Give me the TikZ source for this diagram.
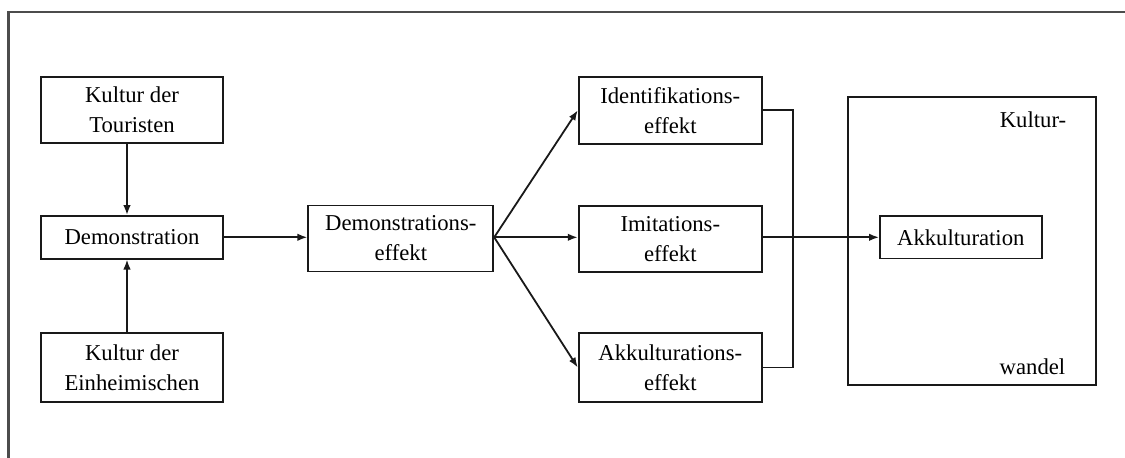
\documentclass[tikz,border=0pt]{standalone}
\usepackage{fontspec}
\setmainfont{Liberation Serif}
\usetikzlibrary{arrows.meta}
\begin{document}
\begin{tikzpicture}[x=1pt,y=-1pt,
  box/.style={draw=black!90, line width=1.8pt, inner sep=0pt, align=center,
    font=\fontsize{22.7}{30}\selectfont},
  lbl/.style={inner sep=0pt, font=\fontsize{22.7}{30}\selectfont},
  conn/.style={draw=black!90, line width=1.8pt},
  arr/.style={conn, -{Latex[length=10pt,width=7.5pt]}},
  frame/.style={draw=black!70, line width=2.2pt}]
\useasboundingbox (0,0) rectangle (1125,458);
\draw[frame] (1125,12) -- (8.5,12) -- (8.5,458);

\node[box, minimum width=182.6pt, minimum height=66.6pt] (tour) at (132,110) {Kultur der\\Touristen};
\node[box, minimum width=182.6pt, minimum height=42.6pt] (demo) at (132,237.3) {Demonstration};
\node[box, minimum width=182.6pt, minimum height=68.4pt] (einh) at (132,367.5) {Kultur der\\Einheimischen};
\node[box, minimum width=185pt, minimum height=66pt] (deff) at (400.8,238.5) {Demonstrations-\\effekt};
\node[box, minimum width=183.3pt, minimum height=67.3pt] (ident) at (670.3,110.3) {Identifikations-\\effekt};
\node[box, minimum width=183.3pt, minimum height=66.6pt] (imit) at (670.3,239) {Imitations-\\effekt};
\node[box, minimum width=183.3pt, minimum height=68.4pt] (akkeff) at (670.3,367.5) {Akkulturations-\\effekt};
\node[box, minimum width=247.4pt, minimum height=287.7pt] (kw) at (972,241.2) {};
\node[box, minimum width=161.7pt, minimum height=42.3pt] (akk) at (960.8,237.3) {Akkulturation};
\node[lbl] (kt) at (1033,120) {Kultur-};
\node[lbl] (wd) at (1032.5,366.7) {wandel};

\draw[arr] ([xshift=-5pt]tour.south) -- ([xshift=-5pt]demo.north);
\draw[arr] ([xshift=-5pt]einh.north) -- ([xshift=-5pt]demo.south);
\draw[arr] (demo.east) -- (demo.east -| deff.west);
\coordinate (fan) at (deff.east |- demo.east);
\draw[arr] (fan) -- (ident.west);
\draw[arr] (fan) -- (fan -| imit.west);
\draw[arr] (fan) -- (akkeff.west);
\coordinate (bx) at (793.3,0);
\draw[conn] (ident.east) -- (ident.east -| bx) -- (akkeff.east -| bx) -- (akkeff.east);
\draw[arr] (akk.west -| imit.east) -- (akk.west);
\end{tikzpicture}
\end{document}
